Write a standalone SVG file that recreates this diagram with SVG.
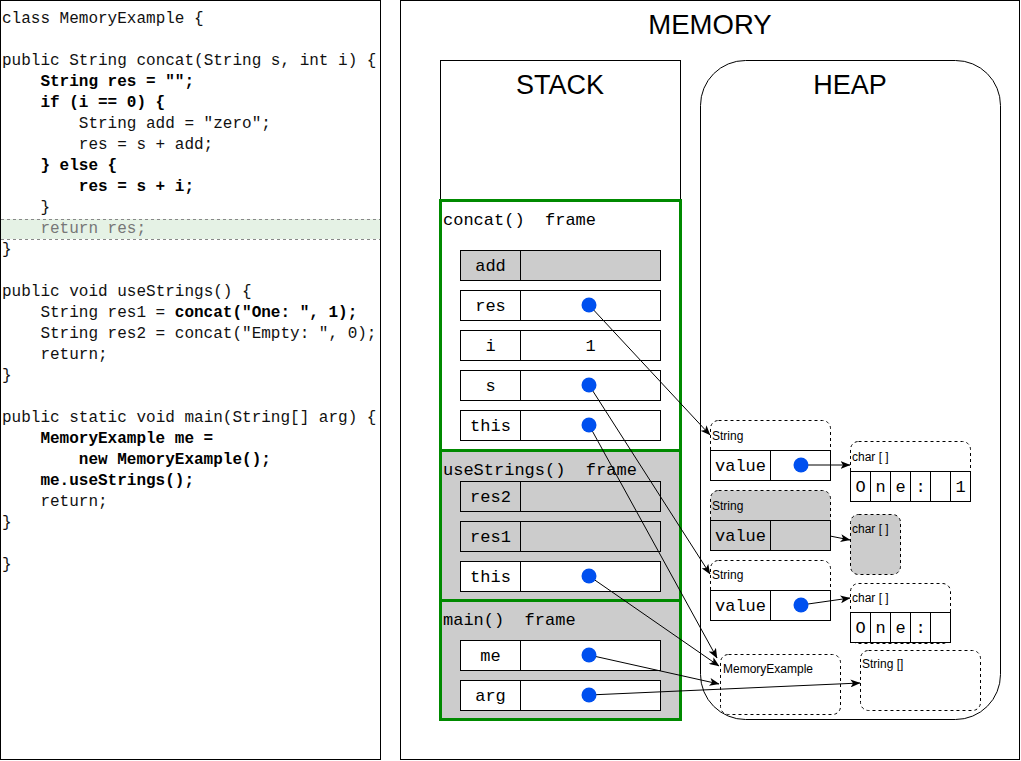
<svg xmlns="http://www.w3.org/2000/svg" width="1021" height="761" viewBox="0 0 1021 761">
<style>
.code{font-family:"Liberation Mono","Courier New",monospace;font-size:16px;fill:#111}
.b{font-weight:bold;fill:#000}
.gr{fill:#777}
.mono{font-family:"Liberation Mono","Courier New",monospace;font-size:17px;fill:#000}
.title{font-family:"Liberation Sans",Arial,sans-serif;font-size:27px;fill:#000;text-anchor:middle}
.lbl{font-family:"Liberation Sans",Arial,sans-serif;font-size:12px;fill:#000}
.frame{stroke:#008a00;stroke-width:3}
.cell{stroke:#000;stroke-width:1}
.w{fill:#fff}
.g{fill:#ccc}
.dot{fill:#0050ef}
.obj{stroke:#000;stroke-dasharray:3 3;stroke-width:1}
.conn{fill:none;stroke:#000;stroke-width:1}
.mid{text-anchor:middle}
</style>
<defs>
<marker id="arr" viewBox="0 0 10 8" refX="9.5" refY="4" markerWidth="10" markerHeight="8" markerUnits="userSpaceOnUse" orient="auto"><path d="M0,0 L10,4 L0,8 L2.5,4 z" fill="#000"/></marker>
</defs>
<rect x="0" y="0" width="1021" height="761" fill="#fff"/>

<g id="code-panel">
<rect x="0.5" y="0.5" width="380" height="759" fill="#fff" stroke="#000"/>
<rect x="1" y="219" width="379" height="20" fill="#e5f2e5"/>
<line x1="1" y1="219.5" x2="380" y2="219.5" stroke="#888" stroke-dasharray="3 3"/>
<line x1="1" y1="239.5" x2="380" y2="239.5" stroke="#888" stroke-dasharray="3 3"/>
<g class="code" xml:space="preserve">
<text x="2" y="23">class MemoryExample {</text>
<text x="2" y="65">public String concat(String s, int i) {</text>
<text x="40.4" y="86" class="b">String res = "";</text>
<text x="40.4" y="107" class="b">if (i == 0) {</text>
<text x="78.8" y="128">String add = "zero";</text>
<text x="78.8" y="149">res = s + add;</text>
<text x="40.4" y="170" class="b">} else {</text>
<text x="78.8" y="191" class="b">res = s + i;</text>
<text x="40.4" y="212">}</text>
<text x="40.4" y="233" class="gr">return res;</text>
<text x="2" y="254">}</text>
<text x="2" y="296">public void useStrings() {</text>
<text x="40.4" y="317">String res1 = <tspan class="b">concat("One: ", 1);</tspan></text>
<text x="40.4" y="338">String res2 = concat("Empty: ", 0);</text>
<text x="40.4" y="359">return;</text>
<text x="2" y="380">}</text>
<text x="2" y="422">public static void main(String[] arg) {</text>
<text x="40.4" y="443" class="b">MemoryExample me =</text>
<text x="78.8" y="464" class="b">new MemoryExample();</text>
<text x="40.4" y="485" class="b">me.useStrings();</text>
<text x="40.4" y="506">return;</text>
<text x="2" y="527">}</text>
<text x="2" y="569">}</text>
</g>
</g>

<g id="memory-panel">
<rect x="400.5" y="0.5" width="619" height="759" fill="#fff" stroke="#000"/>
<text class="title" x="710" y="34" style="font-size:27.5px">MEMORY</text>
</g>

<g id="stack">
<rect x="440.5" y="60.5" width="240" height="659" fill="#fff" stroke="#000"/>
<text class="title" x="560" y="94">STACK</text>
</g>

<g id="heap">
<rect x="700.5" y="60.5" width="300" height="659" rx="45" ry="45" fill="#fff" stroke="#000"/>
<text class="title" x="850" y="94">HEAP</text>
</g>

<g id="concat-frame">
<rect class="frame" x="440.5" y="200.5" width="240" height="250" fill="#fff"/>
<text class="mono" x="443" y="225" xml:space="preserve">concat()  frame</text>
<rect class="cell g" x="460.5" y="250.5" width="60" height="30"/><rect class="cell g" x="520.5" y="250.5" width="140" height="30"/>
<text class="mono mid" x="490.5" y="271">add</text>
<rect class="cell w" x="460.5" y="290.5" width="60" height="30"/><rect class="cell w" x="520.5" y="290.5" width="140" height="30"/>
<text class="mono mid" x="490.5" y="311">res</text>
<rect class="cell w" x="460.5" y="330.5" width="60" height="30"/><rect class="cell w" x="520.5" y="330.5" width="140" height="30"/>
<text class="mono mid" x="490.5" y="351">i</text>
<text class="mono mid" x="590.5" y="351">1</text>
<rect class="cell w" x="460.5" y="370.5" width="60" height="30"/><rect class="cell w" x="520.5" y="370.5" width="140" height="30"/>
<text class="mono mid" x="490.5" y="391">s</text>
<rect class="cell w" x="460.5" y="410.5" width="60" height="30"/><rect class="cell w" x="520.5" y="410.5" width="140" height="30"/>
<text class="mono mid" x="490.5" y="431">this</text>
</g>

<g id="usestrings-frame">
<rect class="frame g" x="440.5" y="450.5" width="240" height="150"/>
<text class="mono" x="443" y="475" xml:space="preserve">useStrings()  frame</text>
<rect class="cell g" x="460.5" y="481.5" width="60" height="30"/><rect class="cell g" x="520.5" y="481.5" width="140" height="30"/>
<text class="mono mid" x="490.5" y="502">res2</text>
<rect class="cell g" x="460.5" y="521.5" width="60" height="30"/><rect class="cell g" x="520.5" y="521.5" width="140" height="30"/>
<text class="mono mid" x="490.5" y="542">res1</text>
<rect class="cell w" x="460.5" y="561.5" width="60" height="30"/><rect class="cell w" x="520.5" y="561.5" width="140" height="30"/>
<text class="mono mid" x="490.5" y="582">this</text>
</g>

<g id="main-frame">
<rect class="frame g" x="440.5" y="600.5" width="240" height="119"/>
<text class="mono" x="443" y="625" xml:space="preserve">main()  frame</text>
<rect class="cell w" x="460.5" y="640.5" width="60" height="30"/><rect class="cell w" x="520.5" y="640.5" width="140" height="30"/>
<text class="mono mid" x="490.5" y="661">me</text>
<rect class="cell w" x="460.5" y="680.5" width="60" height="30"/><rect class="cell w" x="520.5" y="680.5" width="140" height="30"/>
<text class="mono mid" x="490.5" y="701">arg</text>
</g>

<g id="string-1">
<rect class="obj" x="710.5" y="420.5" width="120" height="60" rx="8" fill="#fff"/>
<text class="lbl" x="712" y="440">String</text>
<rect class="cell w" x="710.5" y="450.5" width="60" height="30"/><rect class="cell w" x="770.5" y="450.5" width="60" height="30"/>
<text class="mono mid" x="740.5" y="471">value</text>
</g>

<g id="string-2">
<rect class="obj g" x="710.5" y="490.5" width="120" height="60" rx="8"/>
<text class="lbl" x="712" y="510">String</text>
<rect class="cell g" x="710.5" y="520.5" width="60" height="30"/><rect class="cell g" x="770.5" y="520.5" width="60" height="30"/>
<text class="mono mid" x="740.5" y="541">value</text>
</g>

<g id="string-3">
<rect class="obj" x="710.5" y="560.5" width="120" height="60" rx="8" fill="#fff"/>
<text class="lbl" x="712" y="579">String</text>
<rect class="cell w" x="710.5" y="590.5" width="60" height="30"/><rect class="cell w" x="770.5" y="590.5" width="60" height="30"/>
<text class="mono mid" x="740.5" y="611">value</text>
</g>

<g id="chars-1">
<rect class="obj" x="850.5" y="441.5" width="120" height="60" rx="8" fill="#fff"/>
<text class="lbl" x="852" y="461">char [ ]</text>
<rect class="cell w" x="850.5" y="471.5" width="20" height="30"/><rect class="cell w" x="870.5" y="471.5" width="20" height="30"/><rect class="cell w" x="890.5" y="471.5" width="20" height="30"/><rect class="cell w" x="910.5" y="471.5" width="20" height="30"/><rect class="cell w" x="930.5" y="471.5" width="20" height="30"/><rect class="cell w" x="950.5" y="471.5" width="20" height="30"/>
<text class="mono mid" x="860.5" y="492">O</text><text class="mono mid" x="880.5" y="492">n</text><text class="mono mid" x="900.5" y="492">e</text><text class="mono mid" x="920.5" y="492">:</text><text class="mono mid" x="960.5" y="492">1</text>
</g>

<g id="chars-2">
<rect class="obj g" x="850.5" y="514.5" width="50" height="60" rx="8"/>
<text class="lbl" x="852" y="533">char [ ]</text>
</g>

<g id="chars-3">
<rect class="obj" x="850.5" y="583.5" width="100" height="60" rx="8" fill="#fff"/>
<text class="lbl" x="852" y="602">char [ ]</text>
<rect class="cell w" x="850.5" y="612.5" width="20" height="30"/><rect class="cell w" x="870.5" y="612.5" width="20" height="30"/><rect class="cell w" x="890.5" y="612.5" width="20" height="30"/><rect class="cell w" x="910.5" y="612.5" width="20" height="30"/><rect class="cell w" x="930.5" y="612.5" width="20" height="30"/>
<text class="mono mid" x="860.5" y="633">O</text><text class="mono mid" x="880.5" y="633">n</text><text class="mono mid" x="900.5" y="633">e</text><text class="mono mid" x="920.5" y="633">:</text>
</g>

<g id="memory-example">
<rect class="obj" x="720.5" y="654.5" width="120" height="60" rx="8" fill="#fff"/>
<text class="lbl" x="723" y="673">MemoryExample</text>
</g>

<g id="string-array">
<rect class="obj" x="860.5" y="650.5" width="120" height="60" rx="8" fill="#fff"/>
<text class="lbl" x="862" y="668">String []</text>
</g>

<g id="connectors">
<path class="conn" marker-end="url(#arr)" d="M589,305 L710,435"/>
<path class="conn" marker-end="url(#arr)" d="M589,385 L710,574"/>
<path class="conn" marker-end="url(#arr)" d="M589,425 L717,658"/>
<path class="conn" marker-end="url(#arr)" d="M589,576 L719,666"/>
<path class="conn" marker-end="url(#arr)" d="M589,655 L719,684"/>
<path class="conn" marker-end="url(#arr)" d="M589,695 L860,683"/>
<path class="conn" marker-end="url(#arr)" d="M801,465 L850,465"/>
<path class="conn" marker-end="url(#arr)" d="M830,536 L850,540"/>
<path class="conn" marker-end="url(#arr)" d="M801,605 L850,598"/>
</g>

<g id="pointers">
<circle class="dot" cx="589" cy="305" r="7.5"/>
<circle class="dot" cx="589" cy="385" r="7.5"/>
<circle class="dot" cx="589" cy="425" r="7.5"/>
<circle class="dot" cx="589" cy="576" r="7.5"/>
<circle class="dot" cx="589" cy="655" r="7.5"/>
<circle class="dot" cx="589" cy="695" r="7.5"/>
<circle class="dot" cx="801" cy="465" r="7.5"/>
<circle class="dot" cx="801" cy="605" r="7.5"/>
</g>
</svg>
